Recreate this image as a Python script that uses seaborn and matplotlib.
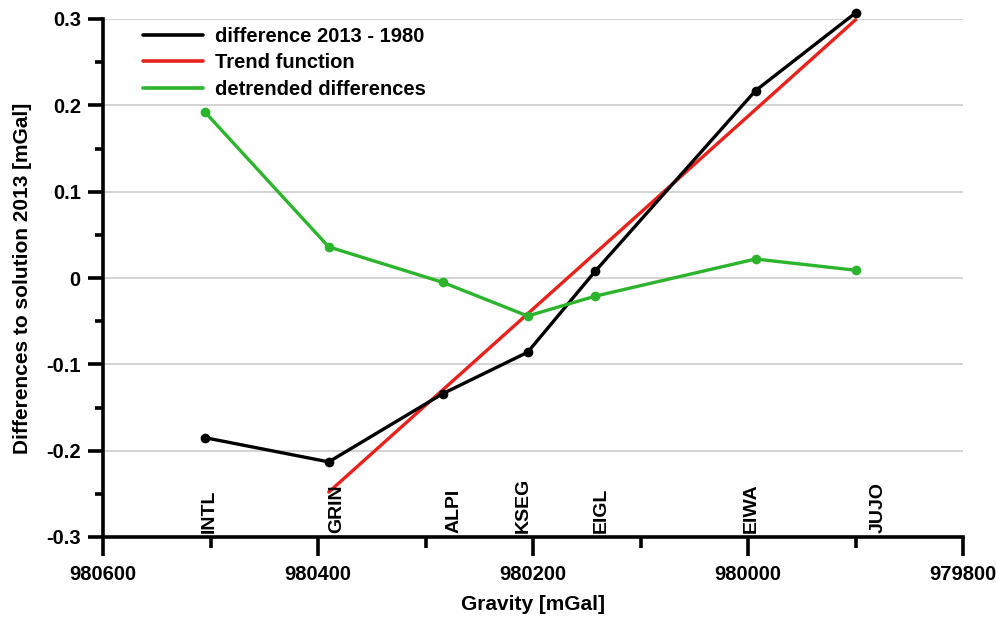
import numpy as np
import pandas as pd
import matplotlib
matplotlib.use("Agg")
import matplotlib.pyplot as plt
from matplotlib.ticker import MultipleLocator, FuncFormatter
from matplotlib.lines import Line2D
import seaborn as sns

stations = ["INTL", "GRIN", "ALPI", "KSEG", "EIGL", "EIWA", "JUJO"]
gravity = [980505, 980390, 980284, 980205, 980142, 979993, 979900]
difference = [-0.185, -0.213, -0.134, -0.086, 0.008, 0.217, 0.307]
detrended = [0.192, 0.036, -0.005, -0.044, -0.021, 0.022, 0.009]
trend_gravity = [980390, 979900]
trend_values = [-0.248, 0.299]

# horizontal nudge (points) of each station name relative to its gravity value
label_nudge = [3, 6, 8.5, -3.5, 4.5, -3, 16.5]

BLACK, RED, GREEN = "black", "#e8211b", "#2cb52c"

sns.set_theme(style="white")
plt.rcParams["font.family"] = ["Liberation Sans", "DejaVu Sans"]
plt.rcParams["font.weight"] = "bold"
plt.rcParams["text.color"] = "black"
plt.rcParams["axes.labelcolor"] = "black"
plt.rcParams["xtick.color"] = "black"
plt.rcParams["ytick.color"] = "black"

fig = plt.figure(figsize=(9.96, 6.17), dpi=100)
ax = fig.add_axes([103 / 996, 80 / 617, 860 / 996, 518 / 617])

df = pd.DataFrame({"gravity": gravity, "difference": difference,
                   "detrended": detrended, "station": stations})
trend_df = pd.DataFrame({"gravity": trend_gravity, "trend": trend_values})

sns.lineplot(data=df, x="gravity", y="difference", sort=False, ax=ax,
             color=BLACK, lw=2.4, marker="o", markersize=7,
             markeredgewidth=0, zorder=4, clip_on=False, legend=False)
sns.lineplot(data=trend_df, x="gravity", y="trend", sort=False, ax=ax,
             color=RED, lw=2.4, zorder=3, clip_on=False, legend=False)
sns.lineplot(data=df, x="gravity", y="detrended", sort=False, ax=ax,
             color=GREEN, lw=2.4, marker="o", markersize=7,
             markeredgewidth=0, zorder=5, clip_on=False, legend=False)

ax.set_xlim(980600, 979800)
ax.set_ylim(-0.3, 0.3)
ax.xaxis.set_major_locator(MultipleLocator(200))
ax.xaxis.set_minor_locator(MultipleLocator(100))
ax.yaxis.set_minor_locator(MultipleLocator(0.05))
ax.set_yticks([-0.3, -0.2, -0.1, 0, 0.1, 0.2, 0.3])
ax.set_yticklabels(["-0.3", "-0.2", "-0.1", "0", "0.1", "0.2", "0.3"])
ax.xaxis.set_major_formatter(FuncFormatter(lambda v, p: f"{int(round(v))}"))

for y in [-0.2, -0.1, 0, 0.1, 0.2, 0.3]:
    ax.axhline(y, color="#c8c8c8", lw=1.1, zorder=1)

for side in ["top", "right"]:
    ax.spines[side].set_visible(False)
for side in ["left", "bottom"]:
    ax.spines[side].set_linewidth(2.6)
    ax.spines[side].set_color("black")

ax.tick_params(axis="x", which="major", direction="out", length=14, width=2.6,
               labelsize=14.5, color="black", labelcolor="black", pad=6,
               bottom=True)
ax.tick_params(axis="x", which="minor", direction="out", length=8, width=2.6,
               color="black", bottom=True)
ax.tick_params(axis="y", which="major", direction="out", length=11, width=2.6,
               labelsize=14.5, color="black", labelcolor="black", pad=5,
               left=True)
ax.tick_params(axis="y", which="minor", direction="out", length=6, width=2.6,
               color="black", left=True)

for s, g, dx in zip(stations, gravity, label_nudge):
    ax.annotate(s, xy=(g, -0.295), xytext=(dx, 0), textcoords="offset points",
                rotation=90, ha="center", va="bottom", fontsize=14,
                fontweight="bold", color="black", zorder=6)

ax.set_xlabel("Gravity [mGal]", fontsize=15, fontweight="bold", labelpad=8,
              color="black")
ax.set_ylabel("Differences to solution 2013 [mGal]", fontsize=15,
              fontweight="bold", labelpad=10, color="black")

handles = [Line2D([], [], color=BLACK, lw=2.6),
           Line2D([], [], color=RED, lw=2.6),
           Line2D([], [], color=GREEN, lw=2.6)]
labels = ["difference 2013 - 1980", "Trend function", "detrended differences"]
leg = ax.legend(handles, labels, loc="upper left", bbox_to_anchor=(0.025, 1.02),
                frameon=False, fontsize=14.5, handlelength=3.0,
                labelspacing=0.38, handletextpad=0.6)
for t in leg.get_texts():
    t.set_fontweight("bold")
    t.set_color("black")

fig.savefig("out.png", dpi=100)
